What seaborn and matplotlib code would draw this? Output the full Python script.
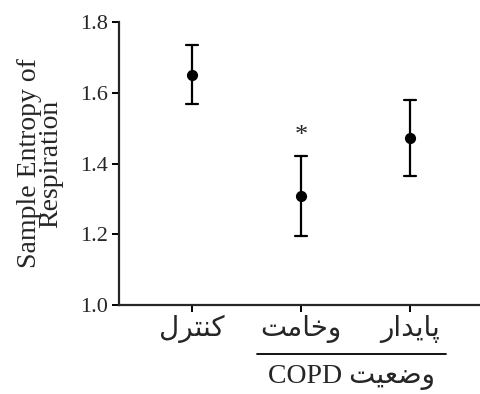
import matplotlib
matplotlib.use("Agg")
import matplotlib.pyplot as plt
import matplotlib.transforms as mtransforms
import seaborn as sns
import pandas as pd

# ---- data ----
groups = ["control", "mucus", "stable"]
means = [1.650, 1.308, 1.471]
lower = [1.567, 1.195, 1.365]
upper = [1.735, 1.422, 1.580]
yticks = [1.0, 1.2, 1.4, 1.6, 1.8]
ylabel = "Sample Entropy of\nRespiration"
# Persian labels (logical order)
tick_labels_fa = ["کنترل", "وخامت", "پایدار"]
group_title_fa = "وضعیت"
group_title_latin = "COPD"
star_y = 1.478

# ---- minimal Persian shaping (matplotlib 3.10 has no complex text layout) ----
FORMS = {  # iso, fin, ini, med
    "ک": ("\uFB8E", "\uFB8F", "\uFB90", "\uFB91"),
    "ن": ("\uFEE5", "\uFEE6", "\uFEE7", "\uFEE8"),
    "ت": ("\uFE95", "\uFE96", "\uFE97", "\uFE98"),
    "ر": ("\uFEAD", "\uFEAE", None, None),
    "ل": ("\uFEDD", "\uFEDE", "\uFEDF", "\uFEE0"),
    "و": ("\uFEED", "\uFEEE", None, None),
    "خ": ("\uFEA5", "\uFEA6", "\uFEA7", "\uFEA8"),
    "ا": ("\uFE8D", "\uFE8E", None, None),
    "م": ("\uFEE1", "\uFEE2", "\uFEE3", "\uFEE4"),
    "پ": ("\uFB56", "\uFB57", "\uFB58", "\uFB59"),
    "ی": ("\uFBFC", "\uFBFD", "\uFBFE", "\uFBFF"),
    "د": ("\uFEA9", "\uFEAA", None, None),
    "ض": ("\uFEBD", "\uFEBE", "\uFEBF", "\uFEC0"),
    "ع": ("\uFEC9", "\uFECA", "\uFECB", "\uFECC"),
}


def shape(word):
    out = []
    n = len(word)
    for i, ch in enumerate(word):
        f = FORMS[ch]
        prev_joins = i > 0 and FORMS[word[i - 1]][2] is not None
        can_join_next = f[2] is not None and i < n - 1
        if prev_joins and can_join_next:
            g = f[3]
        elif prev_joins:
            g = f[1]
        elif can_join_next:
            g = f[2]
        else:
            g = f[0]
        out.append(g)
    return "".join(reversed(out))


sns.set_style("ticks")
plt.rcParams["font.family"] = ["Liberation Serif", "DejaVu Sans"]

df = pd.DataFrame({
    "group": [g for g in groups for _ in range(3)],
    "value": [v for lo, m, hi in zip(lower, means, upper) for v in (lo, m, hi)],
})

fig = plt.figure(figsize=(4.81, 3.94), dpi=100)
ax = fig.add_axes([0.247, 0.226, 0.753, 0.718])

sns.pointplot(
    data=df, x="group", y="value", order=groups,
    estimator="median", errorbar=lambda x: (x.min(), x.max()),
    color="black", linestyle="none", markersize=6, capsize=0.11,
    err_kws={"linewidth": 1.6}, ax=ax,
)

ax.set_xlim(-0.67, 2.65)
ax.set_ylim(1.0, 1.8)
ax.set_yticks(yticks)
ax.set_yticklabels([f"{t:.1f}" for t in yticks], fontsize=16)
ax.set_xticks(range(len(groups)))
ax.set_xticklabels([shape(w) for w in tick_labels_fa], fontsize=20,
                   family=["DejaVu Sans"])
ax.set_xlabel("")
ax.set_ylabel(ylabel, fontsize=20, linespacing=0.8, labelpad=12)

for side in ("top", "right"):
    ax.spines[side].set_visible(False)
for side in ("left", "bottom"):
    ax.spines[side].set_linewidth(1.6)
ax.tick_params(axis="both", width=1.4, length=5, color="black")
ax.tick_params(axis="y", pad=3)
ax.tick_params(axis="x", pad=2)

ax.text(1, star_y, "*", ha="center", va="center", fontsize=19)

trans = mtransforms.blended_transform_factory(ax.transData, ax.transAxes)
ax.plot([0.596, 2.33], [-0.173, -0.173], color="black", lw=1.3,
        transform=trans, clip_on=False)
ax.text(1.46, -0.255, group_title_latin + " " + shape(group_title_fa),
        ha="center", va="center", fontsize=20, transform=trans)

fig.savefig("out.png", dpi=100)
